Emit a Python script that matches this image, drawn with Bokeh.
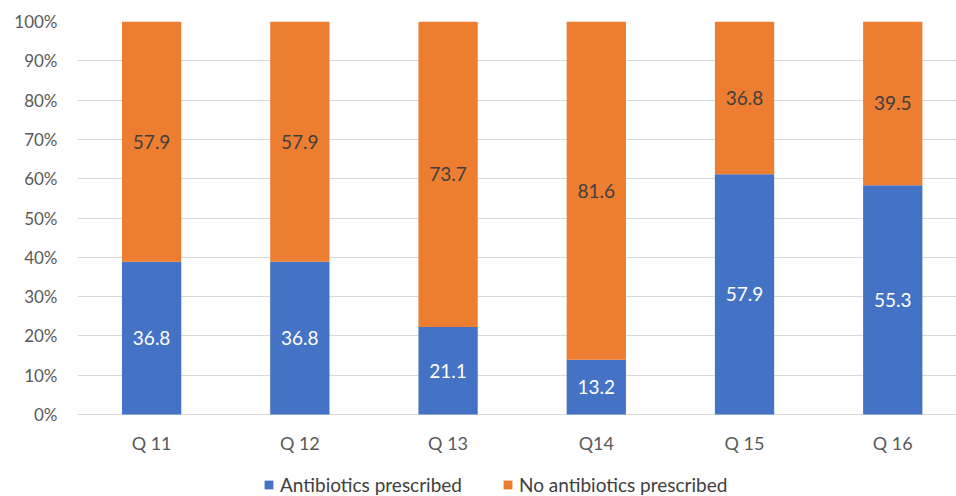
from bokeh.plotting import figure
from bokeh.models import ColumnDataSource, Range1d, FixedTicker, Legend, LegendItem
from bokeh.core.properties import value
from bokeh.embed import file_html
from bokeh.resources import INLINE

categories = ["Q 11", "Q 12", "Q 13", "Q14", "Q 15", "Q 16"]
antibiotics = [36.8, 36.8, 21.1, 13.2, 57.9, 55.3]
no_antibiotics = [57.9, 57.9, 73.7, 81.6, 36.8, 39.5]
y_ticks = [0, 10, 20, 30, 40, 50, 60, 70, 80, 90, 100]
series_names = ["Antibiotics prescribed", "No antibiotics prescribed"]

BLUE = "#4472C4"
ORANGE = "#ED7D31"
FONT = "Lato"

xs = [i + 0.5 for i in range(len(categories))]
totals = [a + b for a, b in zip(antibiotics, no_antibiotics)]
share_a = [a / t * 100 for a, t in zip(antibiotics, totals)]
share_b = [b / t * 100 for b, t in zip(no_antibiotics, totals)]

src = ColumnDataSource(dict(
    x=xs,
    a_top=share_a,
    b_bottom=share_a,
    b_top=[sa + sb for sa, sb in zip(share_a, share_b)],
    a_mid=[sa / 2 for sa in share_a],
    b_mid=[sa + sb / 2 for sa, sb in zip(share_a, share_b)],
    a_lbl=[f"{v:.1f}" for v in antibiotics],
    b_lbl=[f"{v:.1f}" for v in no_antibiotics],
))

# frame spans 21..496 px; 0% sits at 414 px, legend lives in the strip below it
p = figure(frame_width=879, frame_height=475, output_backend="svg", toolbar_location=None,
           x_range=Range1d(0, 5.93), y_range=Range1d(-82 / 3.93, 100),
           min_border_left=77, min_border_right=0, min_border_top=21,
           min_border_bottom=0)
p.outline_line_color = None
p.background_fill_color = "white"

r_a = p.vbar(x="x", bottom=0, top="a_top", width=0.4, source=src,
             fill_color=BLUE, line_color=None)
r_b = p.vbar(x="x", bottom="b_bottom", top="b_top", width=0.4, source=src,
             fill_color=ORANGE, line_color=None)

p.text(x="x", y="a_mid", text="a_lbl", source=src, text_align="center",
       text_baseline="middle", text_color="white", text_font=value(FONT),
       text_font_size="19px")
p.text(x="x", y="b_mid", text="b_lbl", source=src, text_align="center",
       text_baseline="middle", text_color="#404040", text_font=value(FONT),
       text_font_size="19px")

# axes
p.yaxis.ticker = FixedTicker(ticks=y_ticks)
p.yaxis.major_label_overrides = {t: f"{t}%" for t in y_ticks}
p.xaxis.ticker = FixedTicker(ticks=xs)
p.xaxis.major_label_overrides = {x: c for x, c in zip(xs, categories)}
p.xaxis.fixed_location = 0
for ax in (p.xaxis, p.yaxis):
    ax.axis_line_color = None
    ax.major_tick_line_color = None
    ax.minor_tick_line_color = None
    ax.major_tick_out = 0
    ax.major_tick_in = 0
    ax.minor_tick_out = 0
    ax.major_label_text_font = FONT
    ax.major_label_text_color = "#595959"
p.yaxis.major_label_text_font_size = "17px"
p.xaxis.major_label_text_font_size = "18px"
p.yaxis.major_label_standoff = 20
p.xaxis.major_label_standoff = 17

p.xgrid.grid_line_color = None
p.ygrid.ticker = FixedTicker(ticks=y_ticks)
p.ygrid.grid_line_color = "#D9D9D9"
p.ygrid.grid_line_width = 1

legend = Legend(items=[LegendItem(label=series_names[0], renderers=[r_a]),
                       LegendItem(label=series_names[1], renderers=[r_b])],
                orientation="horizontal", location=(186, 0),
                label_text_font=FONT, label_text_font_size="19px",
                label_text_color="#404040", glyph_width=11, glyph_height=11,
                spacing=40, border_line_color=None, background_fill_alpha=0,
                margin=0, padding=2, label_standoff=6)
p.add_layout(legend, "center")

open("out.html", "w").write(file_html(p, INLINE))
